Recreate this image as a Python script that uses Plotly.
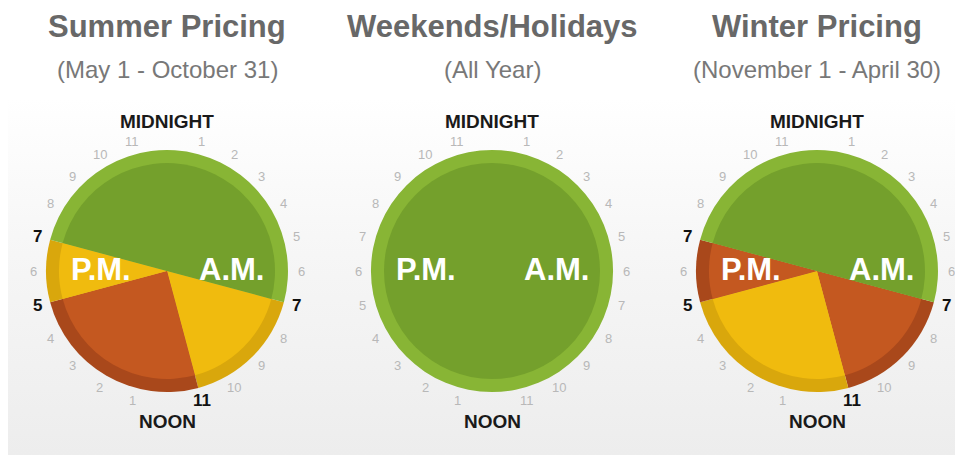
import plotly.graph_objects as go
import numpy as np

# ---------------- data ----------------
CHART_TITLES = ["Summer Pricing", "Weekends/Holidays", "Winter Pricing"]
CHART_SUBTITLES = ["(May 1 - October 31)", "(All Year)", "(November 1 - April 30)"]

# first period starts at this hour (clockwise from midnight)
START_HOUR = [7, 0, 7]
SUMMER_HOURS = [4, 6, 2, 12]
SUMMER_TIERS = ["Mid-Peak", "On-Peak", "Mid-Peak", "Off-Peak"]
WEEKEND_HOURS = [24]
WEEKEND_TIERS = ["Off-Peak"]
WINTER_HOURS = [4, 6, 2, 12]
WINTER_TIERS = ["On-Peak", "Mid-Peak", "On-Peak", "Off-Peak"]

HOUR_LABELS = ["MIDNIGHT", "1", "2", "3", "4", "5", "6", "7", "8", "9", "10", "11",
               "NOON", "1", "2", "3", "4", "5", "6", "7", "8", "9", "10", "11"]

# ---------------- styling ----------------
OFF = 8                      # default page body margin
W, H = 963 - 2 * OFF, 463 - 2 * OFF
CENTERS_X = [167, 492, 817]  # window pixel coordinates
CENTER_Y = 271
R_OUT = 121
R_IN = 108
R_NUM = 134
R_WORD = 150

INNER_COL = {"Off-Peak": "#74a02c", "Mid-Peak": "#f0bb0e", "On-Peak": "#c45820"}
RING_COL = {"Off-Peak": "#88b535", "Mid-Peak": "#d9a70c", "On-Peak": "#a9481b"}
FONT = "Liberation Sans, Arial, Helvetica, sans-serif"

series = [(SUMMER_HOURS, SUMMER_TIERS), (WEEKEND_HOURS, WEEKEND_TIERS), (WINTER_HOURS, WINTER_TIERS)]


def px_x(x):
    return (x - OFF) / W


def px_y(y):
    return 1 - (y - OFF) / H


fig = go.Figure()

# background gradient (window pixel coordinates on hidden axes)
fig.add_trace(go.Scatter(
    x=[OFF, 963 - OFF, 963 - OFF, OFF, OFF], y=[OFF, OFF, 463 - OFF, 463 - OFF, OFF],
    mode="lines", fill="toself", line=dict(width=0), hoverinfo="skip",
    fillgradient=dict(type="vertical",
                      colorscale=[[0, "#ededed"], [0.45, "#f6f6f6"], [0.8, "#ffffff"], [1, "#ffffff"]]),
))

annotations = []
for i, (hours, tiers) in enumerate(series):
    cx = CENTERS_X[i]
    rot = START_HOUR[i] * 15
    for r, cmap in ((R_OUT, RING_COL), (R_IN, INNER_COL)):
        fig.add_trace(go.Pie(
            values=hours, labels=[f"{t} {k}" for k, t in enumerate(tiers)],
            sort=False, direction="clockwise", rotation=rot,
            marker=dict(colors=[cmap[t] for t in tiers], line=dict(width=0)),
            textinfo="none", hoverinfo="skip",
            domain=dict(x=[px_x(cx - r), px_x(cx + r)],
                        y=[px_y(CENTER_Y + r), px_y(CENTER_Y - r)]),
        ))

    # boundary hours (bold)
    bounds = set()
    if len(hours) > 1:
        cum = START_HOUR[i]
        for hcount in hours:
            bounds.add(cum % 24)
            cum += hcount

    for h in range(24):
        ang = np.deg2rad(h * 15)
        if h in (0, 12):
            x = cx + R_WORD * np.sin(ang)
            y = CENTER_Y - R_WORD * np.cos(ang)
            annotations.append(dict(
                x=px_x(x), y=px_y(y), xref="paper", yref="paper", text=HOUR_LABELS[h],
                showarrow=False, xanchor="center", yanchor="middle",
                font=dict(family=FONT, size=19, color="#1a1a1a", weight="bold")))
            continue
        x = cx + R_NUM * np.sin(ang)
        y = CENTER_Y - R_NUM * np.cos(ang)
        if h in bounds:
            font = dict(family=FONT, size=17, color="#111111", weight="bold")
        else:
            font = dict(family=FONT, size=13, color="#b8b8b8")
        annotations.append(dict(
            x=px_x(x), y=px_y(y), xref="paper", yref="paper", text=HOUR_LABELS[h],
            showarrow=False, xanchor="center", yanchor="middle", font=font))

    # P.M. / A.M.
    for txt, dx in (("P.M.", -66), ("A.M.", 64)):
        annotations.append(dict(
            x=px_x(cx + dx), y=px_y(CENTER_Y - 2), xref="paper", yref="paper", text=txt,
            showarrow=False, xanchor="center", yanchor="middle",
            font=dict(family=FONT, size=31, color="#ffffff", weight="bold")))

    # titles
    annotations.append(dict(
        x=px_x(cx), y=px_y(27), xref="paper", yref="paper", text=CHART_TITLES[i],
        showarrow=False, xanchor="center", yanchor="middle",
        font=dict(family=FONT, size=31, color="#686868", weight="bold")))
    annotations.append(dict(
        x=px_x(cx), y=px_y(69), xref="paper", yref="paper", text=CHART_SUBTITLES[i],
        showarrow=False, xanchor="center", yanchor="middle",
        font=dict(family=FONT, size=24, color="#787878")))

fig.update_layout(
    width=W, height=H, margin=dict(l=0, r=0, t=0, b=0),
    paper_bgcolor="#ffffff", plot_bgcolor="rgba(0,0,0,0)",
    showlegend=False, annotations=annotations,
    xaxis=dict(range=[OFF, 963 - OFF], visible=False, fixedrange=True),
    yaxis=dict(range=[463 - OFF, OFF], visible=False, fixedrange=True),
)

fig.write_html("out.html")
